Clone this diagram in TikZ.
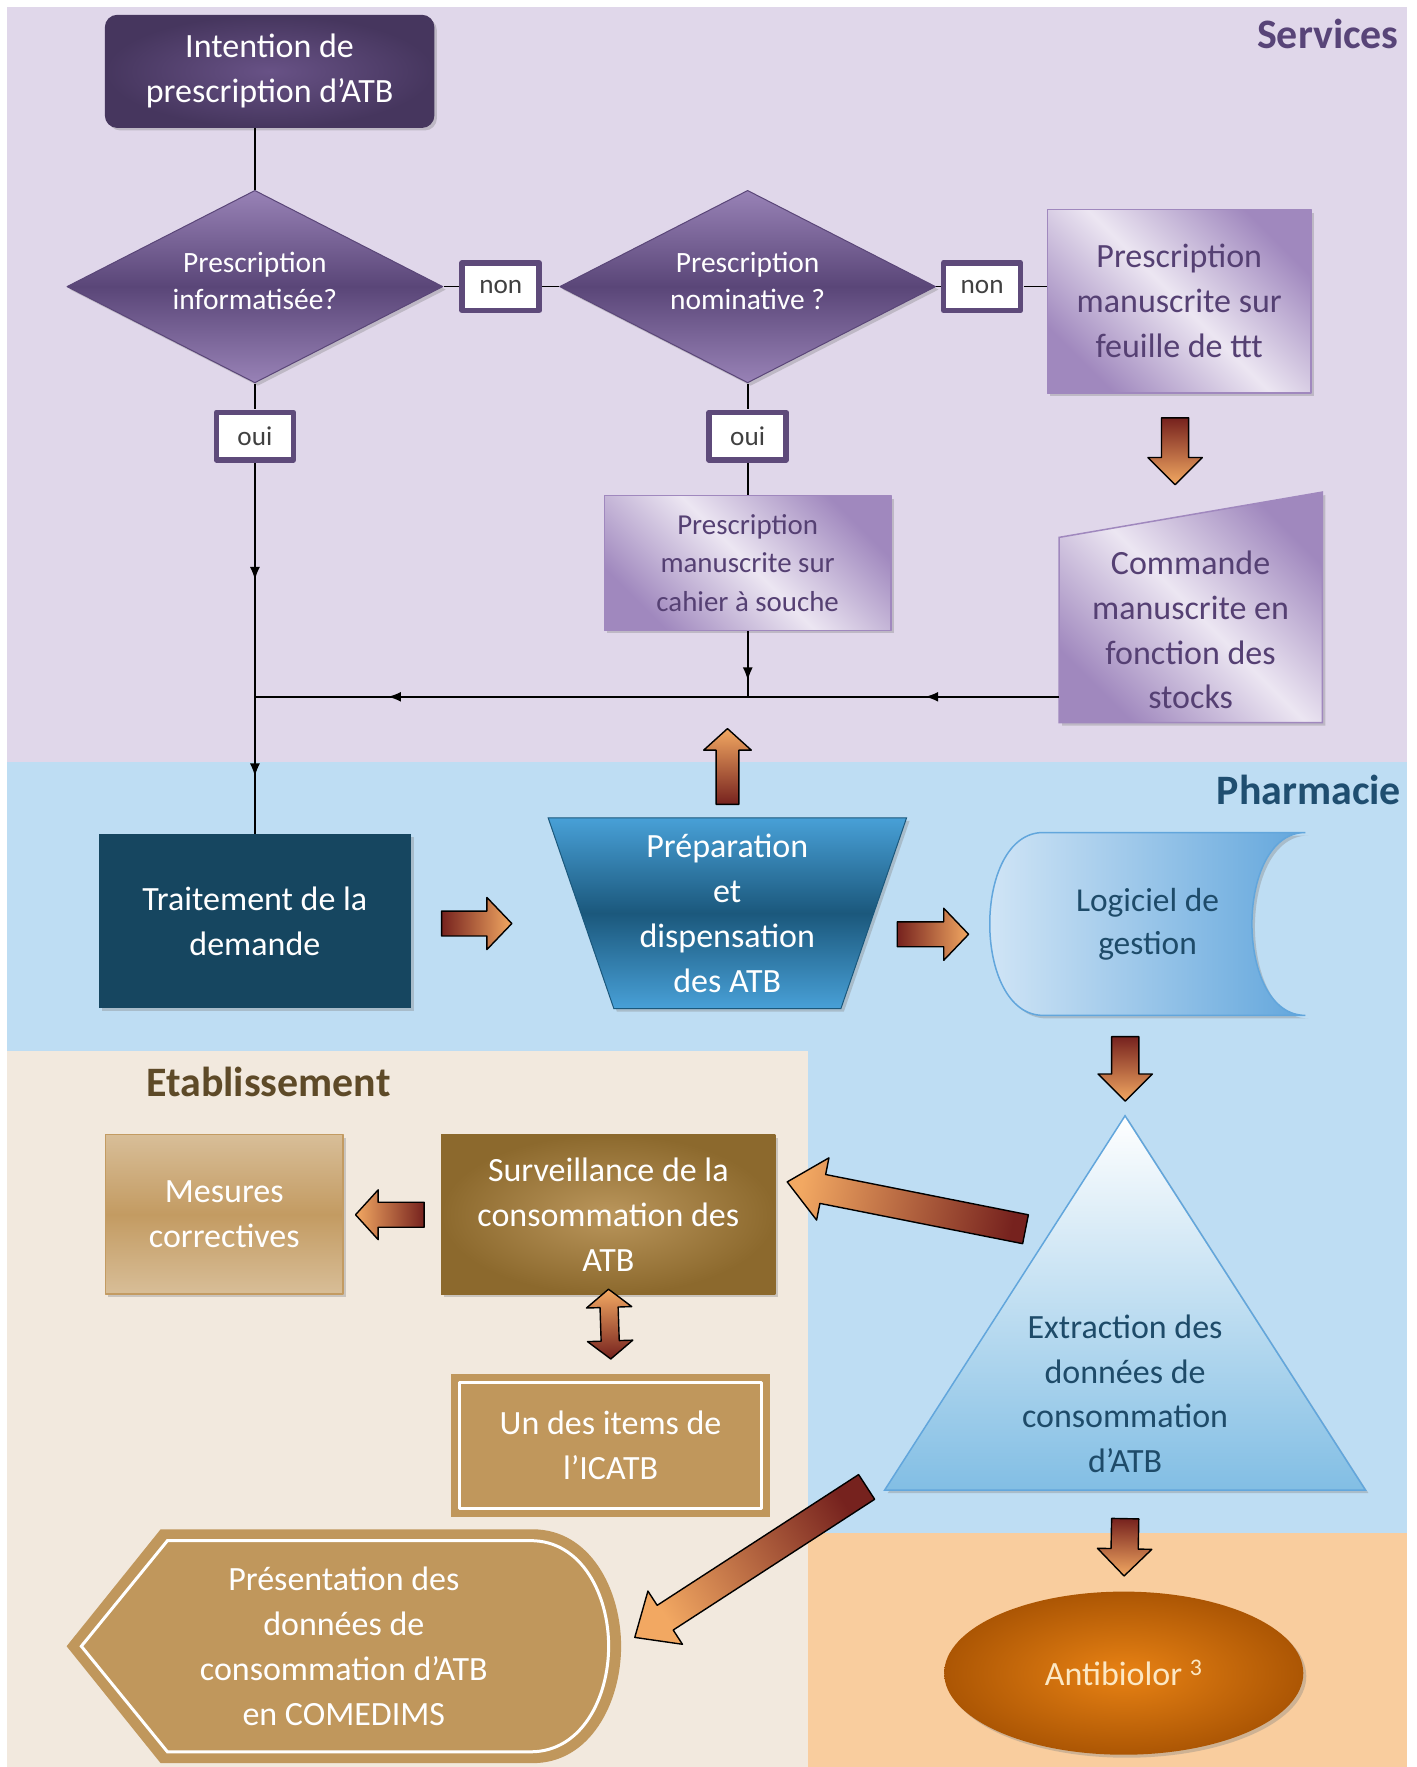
\documentclass[tikz,border=0pt]{standalone}
\usepackage{fontspec}
\setmainfont{Carlito}
\usetikzlibrary{shapes.geometric,arrows.meta,calc,decorations.markings,shadows,backgrounds}

\definecolor{bgpurple}{RGB}{224,215,234}
\definecolor{bgblue}{RGB}{190,221,243}
\definecolor{bgbeige}{RGB}{242,233,222}
\definecolor{bgpeach}{RGB}{249,205,158}
\definecolor{servtxt}{RGB}{88,68,120}
\definecolor{pharmtxt}{RGB}{31,78,112}
\definecolor{etabtxt}{RGB}{94,74,40}
\definecolor{darkpurple}{RGB}{70,54,94}
\definecolor{midpurple}{RGB}{104,82,134}
\definecolor{declight}{RGB}{152,130,182}
\definecolor{decdark}{RGB}{90,70,120}
\definecolor{labelborder}{RGB}{94,74,122}
\definecolor{lightpurpL}{RGB}{236,230,242}
\definecolor{lightpurpD}{RGB}{160,136,190}
\definecolor{lightpurptxt}{RGB}{85,64,115}
\definecolor{traitcol}{RGB}{22,70,96}
\definecolor{prepL}{RGB}{72,160,215}
\definecolor{prepD}{RGB}{27,88,124}
\definecolor{logiL}{RGB}{214,232,247}
\definecolor{logiD}{RGB}{98,166,220}
\definecolor{extrD}{RGB}{130,190,228}
\definecolor{bluetxt}{RGB}{30,75,105}
\definecolor{antibL}{RGB}{232,130,20}
\definecolor{antibD}{RGB}{172,86,4}
\definecolor{antibtxt}{RGB}{252,232,196}
\definecolor{survL}{RGB}{186,150,92}
\definecolor{survD}{RGB}{140,105,45}
\definecolor{mesL}{RGB}{216,190,152}
\definecolor{mesD}{RGB}{195,155,98}
\definecolor{tancol}{RGB}{192,151,92}
\definecolor{headcol}{RGB}{242,168,98}
\definecolor{tailcol}{RGB}{118,34,30}

\newcommand{\bigtxt}{\fontsize{30}{39.7}\selectfont}
\newcommand{\smalltxt}{\fontsize{26}{33}\selectfont}

% block arrow: start, end, half shaft, half head, head length
\newcommand{\fatarrow}[5]{%
  \path #1 coordinate (fa-s) #2 coordinate (fa-e);
  \pgfpointdiff{\pgfpointanchor{fa-s}{center}}{\pgfpointanchor{fa-e}{center}}%
  \pgfgetlastxy{\fadx}{\fady}%
  \pgfmathsetmacro{\faang}{atan2(\fady,\fadx)}%
  \pgfmathsetmacro{\falen}{veclen(\fadx,\fady)}%
  \pgfmathsetmacro{\fashade}{\faang-90}%
  \draw[blockarrow, shading angle=\fashade, shift={(fa-s)}, rotate=\faang]
    (0,#3) -- (\falen-#5,#3) -- (\falen-#5,#4) -- (\falen,0)
    -- (\falen-#5,-#4) -- (\falen-#5,-#3) -- (0,-#3) -- cycle;
}
% same, with a head at both ends
\newcommand{\fatdarrow}[5]{%
  \path #1 coordinate (fa-s) #2 coordinate (fa-e);
  \pgfpointdiff{\pgfpointanchor{fa-s}{center}}{\pgfpointanchor{fa-e}{center}}%
  \pgfgetlastxy{\fadx}{\fady}%
  \pgfmathsetmacro{\faang}{atan2(\fady,\fadx)}%
  \pgfmathsetmacro{\falen}{veclen(\fadx,\fady)}%
  \pgfmathsetmacro{\fashade}{\faang-90}%
  \draw[blockarrow, shading angle=\fashade, shift={(fa-s)}, rotate=\faang]
    (0,0) -- (#5,#4) -- (#5,#3) -- (\falen-#5,#3) -- (\falen-#5,#4) -- (\falen,0)
    -- (\falen-#5,-#4) -- (\falen-#5,-#3) -- (#5,-#3) -- (#5,-#4) -- cycle;
}

\tikzset{
  shadowed/.style={drop shadow={shadow xshift=3pt, shadow yshift=-3pt, opacity=0.35}},
  title/.style={font=\fontsize{37}{40}\selectfont\bfseries, inner sep=0pt},
  answer/.style={draw=labelborder, line width=5.5pt, fill=white, minimum width=68pt,
    minimum height=42pt, inner sep=0pt, font=\fontsize{24}{26}\selectfont, text=black!75},
  decision/.style={diamond, shape aspect=1.95, minimum width=332pt, minimum height=170pt,
    inner sep=0pt, draw=decdark, line width=1pt, top color=declight, bottom color=declight,
    middle color=decdark, text=white, align=center, font=\smalltxt, shadowed},
  lightbox/.style={draw=lightpurpD, line width=1.5pt, align=center, inner sep=0pt,
    text=lightpurptxt, font=\bigtxt, top color=lightpurpD, bottom color=lightpurpD,
    middle color=lightpurpL, shading angle=-45, shadowed},
  lightshape/.style={draw=lightpurpD, line width=1.5pt, top color=lightpurpD,
    bottom color=lightpurpD, middle color=lightpurpL, shading angle=-45, shadowed},
  flow/.style={line width=1.6pt},
  midarrow/.style={postaction={decorate}, decoration={markings,
    mark=at position #1 with {\arrow{Latex[length=13pt,width=10pt]}}}},
  blockarrow/.style={draw=black, line width=1.4pt, top color=headcol, bottom color=tailcol},
  tanbox/.style={fill=tancol, align=center, inner sep=0pt, text=white, font=\bigtxt},
}

\begin{document}
\begin{tikzpicture}[x=1pt, y=-1pt, scale=1.1328, every node/.append style={transform shape},
  line join=round]
\useasboundingbox (0,0) rectangle (1250,1559.85);
\begin{scope}[on background layer]
  \fill[white] (0,0) rectangle (1250,1559.85);
  \fill[bgpurple] (6,6) rectangle (1242,673);
  \fill[bgblue] (6,673) rectangle (1242,928);
  \fill[bgblue] (713,928) rectangle (1242,1353);
  \fill[bgbeige] (6,928) rectangle (713,1559.85);
  \fill[bgpeach] (713,1353) rectangle (1242,1559.85);
\end{scope}

% region titles
\node[title, text=servtxt, anchor=east] (services) at (1235,30) {Services};
\node[title, text=pharmtxt, anchor=east] (pharma) at (1237,697) {Pharmacie};
\node[title, text=etabtxt] (etab) at (237,955) {Etablissement};

% Services
\node[draw=darkpurple, line width=1pt, rounded corners=12pt, minimum width=290pt,
  minimum height=99pt, inner color=midpurple, outer color=darkpurple, text=white,
  align=center, font=\bigtxt, shadowed] (intent) at (238,63) {Intention de\\prescription d’ATB};
\node[decision] (dinfo) at (225,253) {Prescription\\informatisée?\\[-23pt]};
\node[decision] (dnomi) at (660,253) {Prescription\\nominative ?\\[-23pt]};
\node[answer] (non1) at (442,253) {non};
\node[answer] (non2) at (867,253) {non};
\node[answer] (oui1) at (225,385) {oui};
\node[answer] (oui2) at (660,385) {oui};
\node[lightbox, minimum width=233pt, minimum height=162pt] (feuille) at (1041,266)
  {Prescription\\manuscrite sur\\feuille de ttt};
\node[lightbox, font=\fontsize{25.5}{34}\selectfont, minimum width=253pt,
  minimum height=119pt] (cahier) at (660,497)
  {Prescription\\manuscrite sur\\cahier à souche};
\node[minimum width=232pt, minimum height=163pt, align=center, inner sep=0pt,
  text=lightpurptxt, font=\bigtxt] (comm) at (1051,556)
  {Commande\\manuscrite en\\fonction des\\stocks};
\begin{scope}[on background layer]
  \draw[lightshape] (comm.south west) -- (comm.north west)
    -- ($(comm.north east)+(0,-40)$) -- (comm.south east) -- cycle;
\end{scope}
\coordinate (jL) at (225,615);
\coordinate (jM) at (660,615);

% Pharmacie
\node[fill=traitcol, minimum width=275pt, minimum height=153pt, align=center,
  text=white, font=\bigtxt, shadowed] (trait) at (225,813) {Traitement de la\\demande};
\node[minimum width=316pt, minimum height=168pt, inner sep=0pt, align=center,
  text=white, font=\bigtxt] (prep) at (642,806) {Préparation\\et\\dispensation\\des ATB};
\begin{scope}[on background layer]
  \draw[draw=prepD, line width=1pt, top color=prepL, bottom color=prepL,
    middle color=prepD, shadowed] (prep.north west) -- (prep.north east)
    -- ($(prep.south east)+(-58,0)$) -- ($(prep.south west)+(58,0)$) -- cycle;
\end{scope}
\node[minimum width=278pt, minimum height=161pt, align=center, inner sep=0pt,
  text=bluetxt, font=\fontsize{29.5}{38}\selectfont] (logi) at (1013,815.5)
  {Logiciel de\\gestion};
\begin{scope}[on background layer]
  \draw[draw=logiD, line width=1.5pt, left color=logiL, right color=logiD, shadowed]
    ($(logi.north west)+(47,0)$) -- (logi.north east) to[out=180,in=180] (logi.south east)
    -- ($(logi.south west)+(47,0)$) to[out=180,in=180] ($(logi.north west)+(47,0)$) -- cycle;
\end{scope}
\node[minimum width=424pt, minimum height=330pt, inner sep=0pt] (extr) at (993,1150) {};
\begin{scope}[on background layer]
  \draw[draw=logiD, line width=1.5pt, top color=white, bottom color=extrD, shadowed]
    (extr.north) -- (extr.south east) -- (extr.south west) -- cycle;
\end{scope}
\node[align=center, text=bluetxt, font=\bigtxt] (extrtxt)
  at ($(extr.south)+(0,-85)$) {Extraction des\\données de\\consommation\\d’ATB};
\node[ellipse, minimum width=317pt, minimum height=144pt, inner color=antibL,
  outer color=antibD, text=antibtxt, font=\bigtxt, shadowed]
  (antib) at (992,1477) {Antibiolor \textsuperscript{3}};

% Etablissement
\node[draw=mesD, line width=1.5pt, minimum width=210pt, minimum height=141pt,
  top color=mesL, bottom color=mesL, middle color=mesD, align=center, text=white,
  font=\bigtxt, shadowed] (mesures) at (198,1072) {Mesures\\correctives};
\node[minimum width=295pt, minimum height=141pt, inner color=survL, outer color=survD,
  align=center, text=white, font=\bigtxt, shadowed] (surv) at (537,1072)
  {Surveillance de la\\consommation des\\ATB};
\node[tanbox, minimum width=282pt, minimum height=127pt] (icatb) at (539,1276)
  {Un des items de\\l’ICATB};
\draw[white, line width=3pt] ($(icatb.north west)+(8,8)$) rectangle ($(icatb.south east)+(-8,-8)$);
\node[tanbox, fill=none, minimum width=489pt, minimum height=206pt] (pres) at (303.5,1453)
  {Présentation des\\données de\\consommation d’ATB\\en COMEDIMS};
\begin{scope}[on background layer]
  \fill[tancol] ($(pres.north west)+(83,0)$) -- ($(pres.north east)+(-78,0)$)
    to[out=0,in=90] (pres.east) to[out=270,in=0] ($(pres.south east)+(-78,0)$)
    -- ($(pres.south west)+(83,0)$) -- (pres.west) -- cycle;
  \draw[white, line width=3pt] ($(pres.north west)+(89,10)$) -- ($(pres.north east)+(-80,10)$)
    to[out=0,in=90] ($(pres.east)+(-11,0)$) to[out=270,in=0] ($(pres.south east)+(-80,-10)$)
    -- ($(pres.south west)+(89,-10)$) -- ($(pres.west)+(13,0)$) -- cycle;
\end{scope}

% connectors
\draw[flow] (dinfo.north) -- (dinfo.north |- intent.south);
\draw[flow] (dinfo.east) -- (non1.west);
\draw[flow] (non1.east) -- (dnomi.west);
\draw[flow] (dnomi.east) -- (non2.west);
\draw[flow] (non2.east) -- (non2.east -| feuille.west);
\draw[flow] (dinfo.south) -- (oui1.north);
\draw[flow] (dnomi.south) -- (oui2.north);
\draw[flow] (oui2.south) -- (cahier.north);
\draw[flow, midarrow=0.5] (oui1.south) -- (jL);
\draw[flow, midarrow=0.58] (jL) -- (trait.north);
\draw[flow, midarrow=0.75] (cahier.south) -- (jM);
\draw[flow, midarrow=0.43] (jM -| comm.west) -- (jM);
\draw[flow, midarrow=0.73] (jM) -- (jL);

% block arrows
\fatarrow{($(feuille.south)+(-4,21)$)}{($(feuille.south)+(-4,80)$)}{12}{24}{24}
\fatarrow{($(prep.north)+(0,-12)$)}{($(jM -| prep.north)+(0,28)$)}{10}{21}{19}
\fatarrow{($(trait.east)+(27,2)$)}{($(trait.east)+(89,2)$)}{11}{23}{22}
\fatarrow{($(logi.west)+(-82,9)$)}{($(logi.west)+(-19,9)$)}{11}{23}{22}
\fatarrow{($(extr.north)+(0,-70)$)}{($(extr.north)+(0,-13)$)}{12}{24}{24}
\fatarrow{($(extr.north)+(-88,100)$)}{($(surv.east)+(10,-29)$)}{13}{28}{32}
\fatarrow{($(extr.south west)+(-16,-3)$)}{($(pres.east)+(12,-8)$)}{13}{28}{32}
\fatarrow{($(extr.south)+(0,25)$)}{($(antib.north)+(0,-14)$)}{12}{24}{24}
\fatarrow{($(surv.west)+(-15,0)$)}{($(mesures.east)+(10,0)$)}{11}{22}{20}
\fatdarrow{($(icatb.north)+(0,-13)$)}{($(surv.south)+(0,-5)$)}{8}{20}{16}
\end{tikzpicture}
\end{document}
